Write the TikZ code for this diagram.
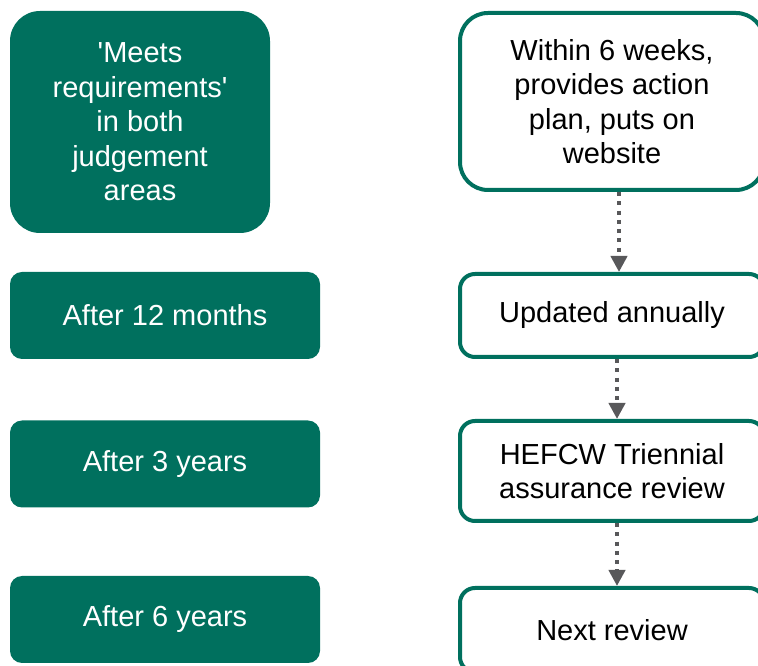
\documentclass[tikz,border=0pt]{standalone}
\usepackage{fontspec}
\newfontfamily\boxfont{Liberation Sans}
\usetikzlibrary{arrows.meta}
\definecolor{hgreen}{HTML}{00705E}
\definecolor{hgrey}{HTML}{58585A}
\begin{document}
\begin{tikzpicture}[>={Triangle[width=16bp,length=16bp]},line join=round,
  every node/.style={font=\boxfont\fontsize{29bp}{34.5bp}\selectfont,align=center,inner sep=0pt},
  stage/.style={fill=hgreen,text=white,rounded corners=12bp,minimum width=310bp,minimum height=87bp},
  step box/.style={draw=hgreen,line width=4bp,fill=white,rounded corners=15bp,minimum width=304bp},
  flow/.style={hgrey,line width=4bp,dash pattern=on 4bp off 5.3bp,->},
]
\useasboundingbox (0bp,0bp) rectangle (758bp,666bp);
\clip (0bp,0bp) rectangle (758bp,666bp);
%%
\node (stage_0) at (140bp,544bp) [stage,rounded corners=30bp,minimum width=260bp,minimum height=222bp] {'Meets\\requirements'\\in both\\judgement\\areas};
  \node (stage_1) at (165bp,350.5bp) [stage] {After 12 months};
  \node (stage_2) at (165bp,202bp) [stage] {After 3 years};
  \node (stage_3) at (165bp,46.5bp) [stage] {After 6 years};
%
\node (step_0) at (612bp,564.5bp) [step box,rounded corners=28bp,minimum height=177bp] {Within 6 weeks,\\provides action\\plan, puts on\\website};
  \node (step_1) at (612bp,350.5bp) [step box,minimum height=83bp] {Updated annually};
  \node (step_2) at (612bp,195bp) [step box,minimum height=100bp] {HEFCW Triennial\\assurance review};
  \node (step_3) at (612bp,36bp) [step box,minimum height=84bp] {Next review};
  \draw [flow] ([xshift=7bp]step_0.south) -- ([xshift=7bp]step_1.north);
  \draw [flow] ([xshift=5bp]step_1.south) -- ([xshift=5bp]step_2.north);
  \draw [flow] ([xshift=5bp]step_2.south) -- ([xshift=5bp]step_3.north);
%
\end{tikzpicture}
\end{document}
